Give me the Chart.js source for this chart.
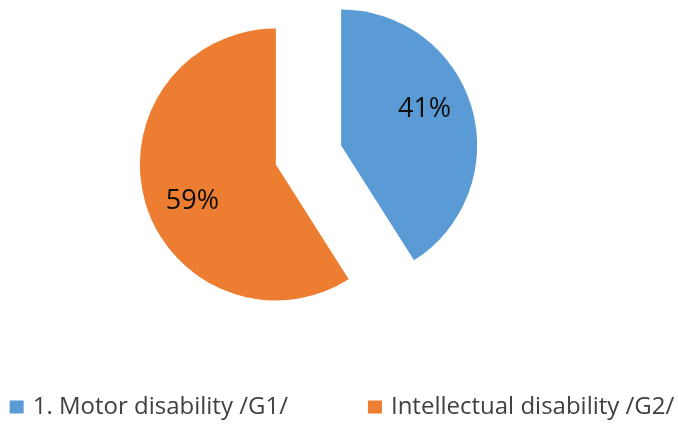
<!DOCTYPE html>
<html>
<head>
<meta charset="utf-8">
<script src="https://cdn.jsdelivr.net/npm/chart.js@4/dist/chart.umd.min.js"></script>
<style>
  html, body { margin: 0; padding: 0; background: #ffffff; }
  #wrap { width: 678px; height: 425px; }
</style>
</head>
<body>
<div id="wrap"><canvas id="pie"></canvas></div>
<script>
// chart data
const categories = ["1. Motor disability /G1/", "Intellectual disability /G2/"];
const shares = [41, 59];
const sliceColors = ["#5B9BD5", "#ED7D31"];

const PIE_RADIUS = 136;
const EXPLODE = 34; // px each slice is pulled out from the centre

// explode the slices by moving each arc along its middle angle
// (chart.js own offset also narrows the wedge, so do it by hand)
const explodeSlices = {
   id: "explodeSlices",
   beforeDatasetsDraw(chart) {
      const area = chart.chartArea;
      const cx = (area.left + area.right) / 2;
      const cy = (area.top + area.bottom) / 2;
      chart.getDatasetMeta(0).data.forEach(arc => {
         const mid = (arc.startAngle + arc.endAngle) / 2;
         arc.x = cx + Math.cos(mid) * EXPLODE;
         arc.y = cy + Math.sin(mid) * EXPLODE;
      });
   }
};

// percentage labels inside the slices
const sliceLabels = {
   id: "sliceLabels",
   afterDatasetsDraw(chart) {
      const ctx = chart.ctx;
      ctx.save();
      ctx.font = "27px 'Open Sans'";
      ctx.fillStyle = "#0d0d0d";
      ctx.textAlign = "center";
      ctx.textBaseline = "middle";
      chart.getDatasetMeta(0).data.forEach((arc, i) => {
         const mid = (arc.startAngle + arc.endAngle) / 2;
         const a = mid - 7.5 * Math.PI / 180;
         const r = arc.outerRadius * 0.67;
         ctx.fillText(shares[i] + "%", arc.x + Math.cos(a) * r, arc.y + Math.sin(a) * r);
      });
      ctx.restore();
   }
};

// legend row at the bottom, wide gap like the original
const bottomLegend = {
   id: "bottomLegend",
   afterDraw(chart) {
      const ctx = chart.ctx;
      const box = 14, boxGap = 9, itemGap = 80, y = 407.5;
      ctx.save();
      ctx.font = "24px 'Open Sans'";
      ctx.textBaseline = "middle";
      const widths = categories.map(c => box + boxGap + ctx.measureText(c).width);
      let total = widths.reduce((s, w) => s + w, 0) + itemGap * (categories.length - 1);
      let x = (chart.width - total) / 2 + 3;
      categories.forEach((c, i) => {
         ctx.fillStyle = sliceColors[i];
         ctx.fillRect(x, y - box / 2, box, box - 1);
         ctx.fillStyle = "#404040";
         ctx.fillText(c, x + box + boxGap, y);
         x += widths[i] + itemGap;
      });
      ctx.restore();
   }
};

const chart = new Chart(document.getElementById("pie"), {
   type: "pie",
   data: {
      labels: categories,
      datasets: [{
         data: shares,
         backgroundColor: sliceColors,
         borderWidth: 0,
         hoverOffset: 0
      }]
   },
   options: {
      responsive: true,
      maintainAspectRatio: false,
      animation: false,
      radius: PIE_RADIUS,
      layout: { padding: { left: 0, right: 61, top: 0, bottom: 115 } },
      plugins: {
         legend: { display: false },
         tooltip: { enabled: false }
      }
   },
   plugins: [explodeSlices, sliceLabels, bottomLegend]
});
</script>
</body>
</html>
